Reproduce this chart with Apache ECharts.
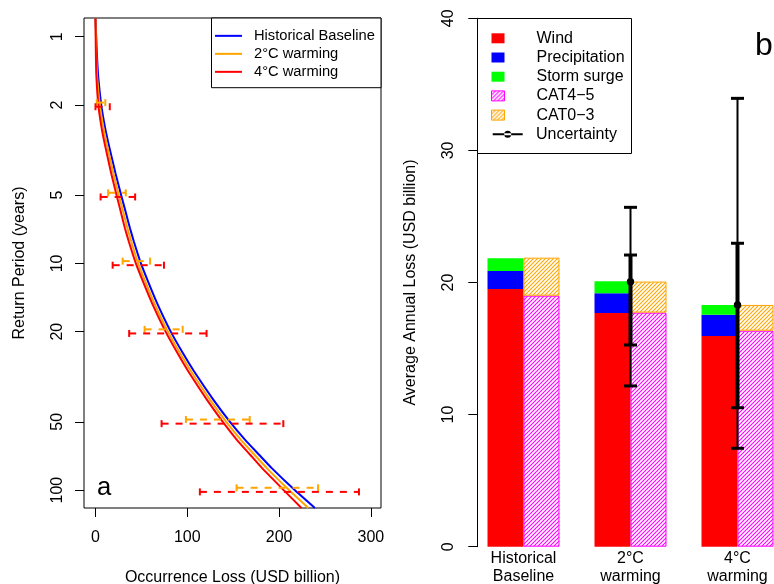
<!DOCTYPE html>
<html><head><meta charset="utf-8">
<script src="https://cdn.jsdelivr.net/npm/echarts@6/dist/echarts.min.js"></script>
<style>html,body{margin:0;padding:0;background:#fff}#c{width:774px;height:584px}</style>
</head><body><div id="c"></div>
<script>
// ---------- Panel a: return period curves ----------
const returnPeriods  = [0.83, 1, 1.25, 1.5, 2, 2.5, 3, 4, 5, 6, 7, 8, 10, 12, 15, 20, 25, 30, 40, 50, 60, 70, 80, 100, 120];
const lossHistorical = [0, 0.8, 1.8, 3.0, 6.3, 10.3, 14.5, 21.8, 28.0, 33.2, 37.6, 41.8, 49.5, 57.2, 67.2, 82.0, 95.5, 107.5, 128.5, 146.5, 163.0, 178.5, 192.0, 217.0, 239.0];
const loss2C         = [0, 0.5, 1.0, 1.8, 4.7, 8.5, 12.5, 19.5, 25.5, 30.6, 34.9, 39.0, 46.5, 54.2, 64.2, 79.0, 92.4, 104.3, 124.9, 142.5, 158.4, 173.5, 186.6, 210.8, 231.8];
const loss4C         = [0, 0.2, 0.5, 1.0, 3.1, 6.5, 10.3, 17.1, 23.0, 27.9, 32.1, 36.3, 44.0, 51.7, 61.7, 76.4, 89.6, 101.2, 121.5, 138.7, 154.0, 168.7, 181.5, 205.0, 224.4];
const rpTickLabels   = [1, 2, 5, 10, 20, 50, 100];
const lossTickLabels = [0, 100, 200, 300];
const rangeRP        = [2, 5, 10, 20, 50, 100];
const range2CLow     = [1.4, 13.8, 29.6, 53.5, 98.5, 153.7];
const range2CHigh    = [10.7, 33.0, 59.5, 95.0, 168.0, 242.5];
const range4CLow     = [0, 5.6, 18.7, 36.7, 72.0, 113.7];
const range4CHigh    = [15.6, 43.2, 74.6, 121.0, 204.6, 287.0];

// ---------- Panel b: average annual loss ----------
const scenarios     = ['Historical\nBaseline', '2°C\nwarming', '4°C\nwarming'];
const wind          = [19.5, 17.69, 15.95];
const precipitation = [1.37, 1.49, 1.61];
const stormSurge    = [0.96, 0.91, 0.74];
const cat45         = [19.0, 17.72, 16.35];
const cat03         = [2.88, 2.35, 1.95];
const uncScenario   = [1, 2];
const uncMean       = [20.06, 18.30];
const uncOuterLow   = [12.17, 7.45];
const uncOuterHigh  = [25.69, 33.94];
const uncInnerLow   = [15.27, 10.52];
const uncInnerHigh  = [22.08, 22.97];

const FONT = '"Liberation Sans", Arial, Helvetica, sans-serif';
const lg = Math.log10;

function hatch(color) {
  const s = 4, c = document.createElement('canvas');
  c.width = s; c.height = s;
  const g = c.getContext('2d');
  g.fillStyle = '#fff'; g.fillRect(0, 0, s, s);
  g.strokeStyle = color; g.lineWidth = 1.1;
  g.beginPath();
  g.moveTo(0, s); g.lineTo(s, 0);
  g.moveTo(-1, 1); g.lineTo(1, -1);
  g.moveTo(s - 1, s + 1); g.lineTo(s + 1, s - 1);
  g.stroke();
  return c;
}

const curve = (loss) => returnPeriods.map((t, i) => [loss[i], lg(t)]);
const ranges = (lo, hi) => rangeRP.map((t, i) => [lo[i], hi[i], lg(t)]);

function errBarRender(color, dy) {
  return function (params, api) {
    const t = api.value(2);
    const a = api.coord([api.value(0), t]);
    const b = api.coord([api.value(1), t]);
    const y = a[1] + dy, h = 3.5;
    return {type: 'group', children: [
      {type: 'line', shape: {x1: a[0], y1: y, x2: b[0], y2: y}, style: {stroke: color, lineWidth: 2, lineDash: [7, 7]}},
      {type: 'line', shape: {x1: a[0], y1: y - h, x2: a[0], y2: y + h}, style: {stroke: color, lineWidth: 2}},
      {type: 'line', shape: {x1: b[0], y1: y - h, x2: b[0], y2: y + h}, style: {stroke: color, lineWidth: 2}}
    ]};
  };
}

function uncRender(params, api) {
  const x = api.value(0);
  const m = api.coord([x, api.value(1)]);
  const ol = api.coord([x, api.value(2)]), oh = api.coord([x, api.value(3)]);
  const il = api.coord([x, api.value(4)]), ih = api.coord([x, api.value(5)]);
  const cx = m[0], w = 6.5;
  const cap = (p) => ({type: 'line', shape: {x1: cx - w, y1: p[1], x2: cx + w, y2: p[1]}, style: {stroke: '#000', lineWidth: 3}});
  return {type: 'group', children: [
    {type: 'line', shape: {x1: cx, y1: ol[1], x2: cx, y2: oh[1]}, style: {stroke: '#000', lineWidth: 2}},
    {type: 'line', shape: {x1: cx, y1: il[1], x2: cx, y2: ih[1]}, style: {stroke: '#000', lineWidth: 4}},
    cap(ol), cap(oh), cap(il), cap(ih),
    {type: 'circle', shape: {cx: cx, cy: m[1], r: 3.7}, style: {fill: '#000'}}
  ]};
}

const magentaHatch = {image: hatch('#FF00FF'), repeat: 'repeat'};
const orangeHatch = {image: hatch('#FFA500'), repeat: 'repeat'};

const chart = echarts.init(document.getElementById('c'), null, {renderer: 'canvas', width: 774, height: 584});

const axisText = {color: '#000', fontSize: 16, fontFamily: FONT};

const option = {
  animation: false,
  backgroundColor: '#fff',
  textStyle: {fontFamily: FONT},
  grid: [
    {left: 84, top: 18, width: 297, height: 490, show: true, borderColor: '#000', borderWidth: 1,
     backgroundColor: 'transparent', outerBoundsMode: 'none', containLabel: false},
    {left: 470, top: 18.3, width: 321, height: 528.4, outerBoundsMode: 'none', containLabel: false}
  ],
  xAxis: [
    {gridIndex: 0, type: 'value', min: -12.5, max: 311,
     name: 'Occurrence Loss (USD billion)', nameLocation: 'middle', nameGap: 61.5,
     nameTextStyle: axisText,
     axisLine: {show: false, onZero: false},
     axisTick: {show: true, length: 9, customValues: lossTickLabels, lineStyle: {color: '#000'}},
     axisLabel: Object.assign({customValues: lossTickLabels, margin: 22, lineHeight: 16}, axisText),
     splitLine: {show: false}},
    {gridIndex: 1, type: 'category', data: scenarios,
     axisLine: {show: false, onZero: false}, axisTick: {show: false}, splitLine: {show: false},
     axisLabel: Object.assign({interval: 0, margin: 2.5, lineHeight: 18.3}, axisText)}
  ],
  yAxis: [
    {gridIndex: 0, type: 'value', inverse: true, min: -0.0825, max: 2.079,
     name: 'Return Period (years)', nameLocation: 'middle', nameGap: 56.5, nameTextStyle: axisText,
     axisLine: {show: false, onZero: false},
     axisTick: {show: true, length: 9, customValues: rpTickLabels.map(lg), lineStyle: {color: '#000'}},
     axisLabel: Object.assign({customValues: rpTickLabels.map(lg), rotate: 90, margin: 18, lineHeight: 16,
       formatter: (v) => String(Math.round(Math.pow(10, v)))}, axisText),
     splitLine: {show: false}},
    {gridIndex: 1, type: 'value', min: 0, max: 40, interval: 10, offset: -7.3,
     name: 'Average Annual Loss (USD billion)', nameLocation: 'middle', nameGap: 58.3, nameTextStyle: axisText,
     axisLine: {show: true, onZero: false, lineStyle: {color: '#000', width: 1}},
     axisTick: {show: true, length: 9, lineStyle: {color: '#000'}},
     axisLabel: Object.assign({rotate: 90, margin: 21, lineHeight: 16}, axisText),
     splitLine: {show: false}}
  ],
  legend: [
    {left: 215, top: 28.35, orient: 'vertical', itemWidth: 27, itemHeight: 2, itemGap: 3.0, icon: 'rect',
     selectedMode: false, padding: 0,
     textStyle: {fontSize: 14.7, color: '#000', fontFamily: FONT, lineHeight: 14, padding: [0, 0, 0, 7]},
     data: ['Historical Baseline', '2°C warming', '4°C warming']},
    {left: 491, top: 30.3, orient: 'vertical', itemWidth: 13, itemHeight: 10, itemGap: 3.2, icon: 'rect',
     selectedMode: false, padding: 0,
     textStyle: {fontSize: 16, color: '#000', fontFamily: FONT, lineHeight: 14, padding: [0, 0, 0, 27]},
     data: ['Wind', 'Precipitation', 'Storm surge',
            {name: 'CAT4−5', itemStyle: {borderWidth: 1}}, {name: 'CAT0−3', itemStyle: {borderWidth: 1}}]},
    {left: 492.7, top: 126.3, orient: 'vertical', itemWidth: 30, itemHeight: 7, selectedMode: false, padding: 0,
     textStyle: {fontSize: 16, color: '#000', fontFamily: FONT, lineHeight: 14, padding: [0, 0, 0, 8.3]},
     data: [{name: 'Uncertainty', icon: 'path://M0,2.5 L30,2.5 L30,4.5 L0,4.5 Z M11.5,3.5 A3.5,3.5 0 1,0 18.5,3.5 A3.5,3.5 0 1,0 11.5,3.5 Z'}]}
  ],
  graphic: [
    {type: 'rect', z: 3, shape: {x: 211.5, y: 18, width: 169.5, height: 69.7}, style: {fill: '#fff', stroke: '#000', lineWidth: 1}},
    {type: 'rect', z: 3, shape: {x: 477.5, y: 18.5, width: 154, height: 135}, style: {fill: '#fff', stroke: '#000', lineWidth: 1}},
    {type: 'text', z: 5, x: 97, y: 487.8, style: {text: 'a', fontSize: 25.6, fontFamily: FONT, fill: '#000', verticalAlign: 'middle'}},
    {type: 'text', z: 5, x: 755, y: 45.9, style: {text: 'b', fontSize: 32, fontFamily: FONT, fill: '#000', verticalAlign: 'middle'}}
  ],
  series: [
    {name: 'Historical Baseline', type: 'line', xAxisIndex: 0, yAxisIndex: 0, data: curve(lossHistorical),
     color: '#0000FF', lineStyle: {width: 2, color: '#0000FF'}, symbol: 'none', smooth: 0.15, clip: true, z: 2},
    {name: '2°C warming', type: 'line', xAxisIndex: 0, yAxisIndex: 0, data: curve(loss2C),
     color: '#FFA500', lineStyle: {width: 2, color: '#FFA500'}, symbol: 'none', smooth: 0.15, clip: true, z: 2},
    {name: '4°C warming', type: 'line', xAxisIndex: 0, yAxisIndex: 0, data: curve(loss4C),
     color: '#FF0000', lineStyle: {width: 2, color: '#FF0000'}, symbol: 'none', smooth: 0.15, clip: true, z: 2},
    {name: '2°C range', type: 'custom', xAxisIndex: 0, yAxisIndex: 0, data: ranges(range2CLow, range2CHigh),
     encode: {x: [0, 1], y: 2}, renderItem: errBarRender('#FFA500', -2.3), z: 3},
    {name: '4°C range', type: 'custom', xAxisIndex: 0, yAxisIndex: 0, data: ranges(range4CLow, range4CHigh),
     encode: {x: [0, 1], y: 2}, renderItem: errBarRender('#FF0000', 1.8), z: 3},

    {name: 'Wind', type: 'bar', stack: 'source', xAxisIndex: 1, yAxisIndex: 1, barWidth: 36, barGap: '0%',
     itemStyle: {color: '#FF0000'}, data: wind},
    {name: 'Precipitation', type: 'bar', stack: 'source', xAxisIndex: 1, yAxisIndex: 1, barWidth: 36, barGap: '0%',
     itemStyle: {color: '#0000FF'}, data: precipitation},
    {name: 'Storm surge', type: 'bar', stack: 'source', xAxisIndex: 1, yAxisIndex: 1, barWidth: 36, barGap: '0%',
     itemStyle: {color: '#00FF00'}, data: stormSurge},
    {name: 'CAT4−5', type: 'bar', stack: 'category', xAxisIndex: 1, yAxisIndex: 1, barWidth: 36, barGap: '0%',
     itemStyle: {color: magentaHatch, borderColor: '#FF00FF', borderWidth: 1}, data: cat45},
    {name: 'CAT0−3', type: 'bar', stack: 'category', xAxisIndex: 1, yAxisIndex: 1, barWidth: 36, barGap: '0%',
     itemStyle: {color: orangeHatch, borderColor: '#FFA500', borderWidth: 1}, data: cat03},
    {name: 'Uncertainty', type: 'custom', xAxisIndex: 1, yAxisIndex: 1, itemStyle: {color: '#000'}, z: 5,
     data: uncScenario.map((s, i) => [s, uncMean[i], uncOuterLow[i], uncOuterHigh[i], uncInnerLow[i], uncInnerHigh[i]]),
     encode: {x: 0, y: [1, 2, 3, 4, 5]}, renderItem: uncRender}
  ]
};
chart.setOption(option);
</script></body></html>
